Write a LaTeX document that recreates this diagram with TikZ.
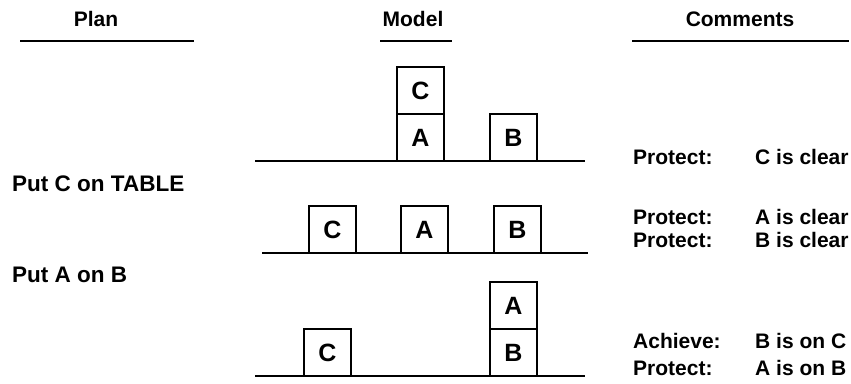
\documentclass[tikz,border=0pt]{standalone}
\usepackage{fontspec}
\setmainfont{Liberation Sans}
\begin{document}
\begin{tikzpicture}[x=1pt,y=1pt,
  txt/.style={anchor=base west,inner sep=0pt,font=\fontsize{21}{24}\selectfont\bfseries},
  plantxt/.style={anchor=base west,inner sep=0pt,font=\fontsize{22.5}{25}\selectfont\bfseries},
  head/.style={anchor=base,inner sep=0pt,font=\fontsize{21}{24}\selectfont\bfseries},
  blockbox/.style={draw,line width=1.8pt,minimum width=47pt,minimum height=47pt,inner sep=0pt,font=\fontsize{25}{27}\selectfont\bfseries},
  ground/.style={line width=2.8pt},
  rule/.style={line width=2.2pt}]
\useasboundingbox (0,0) rectangle (851,383);
% headers
\node[head] (hplan) at (96,356) {Plan};
\node[head] (hmodel) at (413,356) {Model};
\node[head] (hcomm) at (740,356) {Comments};
\coordinate (pl1) at (20,342); \coordinate (pl2) at (194,342);
\coordinate (ml1) at (380,342); \coordinate (ml2) at (452,342);
\coordinate (cl1) at (632,342); \coordinate (cl2) at (849,342);
\draw[rule] (pl1) -- (pl2);
\draw[rule] (ml1) -- (ml2);
\draw[rule] (cl1) -- (cl2);
% row 1
\coordinate (g1a) at (255,222); \coordinate (g1b) at (585,222);
\draw[ground] (g1a) -- (g1b);
\node[blockbox] (a1) at (420.5,245.5) {A};
\node[blockbox] (c1) at (420.5,292.5) {C};
\node[blockbox] (b1) at (513.5,245.5) {B};
% row 2
\coordinate (g2a) at (262,130); \coordinate (g2b) at (588,130);
\draw[ground] (g2a) -- (g2b);
\node[blockbox] (c2) at (332.5,153.5) {C};
\node[blockbox] (a2) at (424.5,153.5) {A};
\node[blockbox] (b2) at (517.5,153.5) {B};
% row 3
\coordinate (g3a) at (255,7); \coordinate (g3b) at (585,7);
\draw[ground] (g3a) -- (g3b);
\node[blockbox] (c3) at (327.5,30.5) {C};
\node[blockbox] (b3) at (513.5,30.5) {B};
\node[blockbox] (a3) at (513.5,77.5) {A};
% plan
\node[plantxt] (p1) at (12,191) {Put C on TABLE};
\node[plantxt] (p2) at (12,100) {Put A on B};
% comments
\node[txt] (k1) at (633,218) {Protect:};
\node[txt] (v1) at (755,218) {C is clear};
\node[txt] (k2) at (633,158) {Protect:};
\node[txt] (v2) at (755,158) {A is clear};
\node[txt] (k3) at (633,135) {Protect:};
\node[txt] (v3) at (755,135) {B is clear};
\node[txt] (k4) at (633,35) {Achieve:};
\node[txt] (v4) at (755,35) {B is on C};
\node[txt] (k5) at (633,8) {Protect:};
\node[txt] (v5) at (755,8) {A is on B};
\end{tikzpicture}
\end{document}
